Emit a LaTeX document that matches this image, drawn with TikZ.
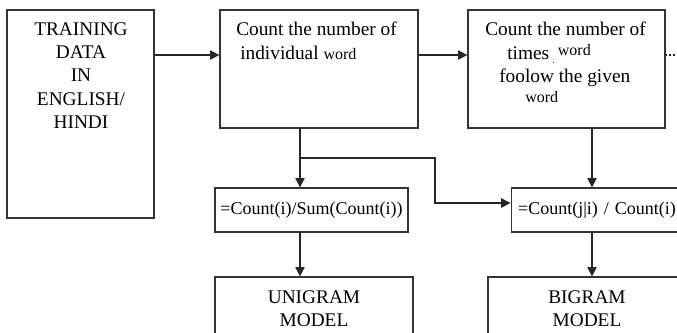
\documentclass[tikz,border=0pt]{standalone}
\usepackage{fontspec}
\setmainfont{Liberation Serif}
\usetikzlibrary{positioning, arrows.meta, calc}
\newcommand{\smallword}{{\fontsize{12}{14}\selectfont word}}
\tikzset{
  box/.style={
    draw=black!80, line width=0.9pt, fill=white, inner sep=0pt
  },
  txt/.style={font=\fontsize{14.5}{17.5}\selectfont, inner sep=0pt},
  formula/.style={font=\fontsize{13.5}{16}\selectfont},
  arrow/.style={-{Triangle[length=7pt,width=7pt]}, line width=0.9pt, draw=black!85},
  link/.style={line width=0.9pt, draw=black!85}
}

\begin{document}
\begin{tikzpicture}[x=0.75pt, y=-0.75pt]
\useasboundingbox (0,0) rectangle (677,332);
\clip (0,0) rectangle (677,332);

%% ── Training data ────────────────────────────────────────────
\node[box, minimum width=110.25pt, minimum height=156pt] (train) at (80.5,114) {};
\node[txt, align=center, anchor=north] (trainlbl) at (81,22)
  {TRAINING\\DATA\\IN\\ENGLISH/\\HINDI};

%% ── Counting boxes ───────────────────────────────────────────
\node[box, minimum width=148.5pt, minimum height=88.5pt] (cntword) at (319,69) {};
\node[txt, align=left, anchor=north west] (cntwordlbl) at (236,22)
  {Count the number of\\\hspace{3pt}individual \smallword};

\node[box, minimum width=147.75pt, minimum height=88.5pt] (cntpair) at (566.5,69) {};
\node[txt, align=left, anchor=north west] (cntpairlbl) at (485,22)
  {Count the number of\\
   \hspace{16.5pt}times\,\raisebox{-3pt}{\scriptsize .}\,\raisebox{3pt}{\smallword}\\
   \hspace{10.5pt}foolow the given\\[-2.5pt]
   \hspace{30pt}\smallword};

%% ── Probability boxes ────────────────────────────────────────
\node[box, formula, minimum width=144.75pt, minimum height=33pt] (uniprob) at (311.5,210)
  {=Count(i)/Sum(Count(i))};
\node[box, formula, text width=134pt, inner xsep=5.25pt, align=left,
      minimum height=33pt] (biprob) at (607.5,210) {=Count(j|i) / Count(i)};

%% ── Models ───────────────────────────────────────────────────
\node[box, txt, align=center, minimum width=148.5pt, minimum height=47.25pt] (unigram)
  at (314,308.5) {UNIGRAM\\MODEL};
\node[box, txt, align=center, minimum width=148.5pt, minimum height=47.25pt] (bigram)
  at (587,308.5) {BIGRAM\\MODEL};

%% ── Connectors ───────────────────────────────────────────────
\coordinate (row) at (0,55);
\coordinate (ucol) at (300,0);
\coordinate (bcol) at (592,0);
\coordinate (split) at (300,158);
\coordinate (turn) at (435,203);
\coordinate (dotend) at (690,55);

\draw[arrow] (train.east |- row) -- (cntword.west |- row);
\draw[arrow] (cntword.east |- row) -- (cntpair.west |- row);
\draw[link, dotted] (cntpair.east |- row) -- (dotend);
\draw[arrow] (cntword.south -| ucol) -- (uniprob.north -| ucol);
\draw[arrow] (split) -| (turn) -- (biprob.west |- turn);
\draw[arrow] (cntpair.south -| bcol) -- (biprob.north -| bcol);
\draw[arrow] (uniprob.south -| ucol) -- (unigram.north -| ucol);
\draw[arrow] (biprob.south -| bcol) -- (bigram.north -| bcol);

\end{tikzpicture}
\end{document}
